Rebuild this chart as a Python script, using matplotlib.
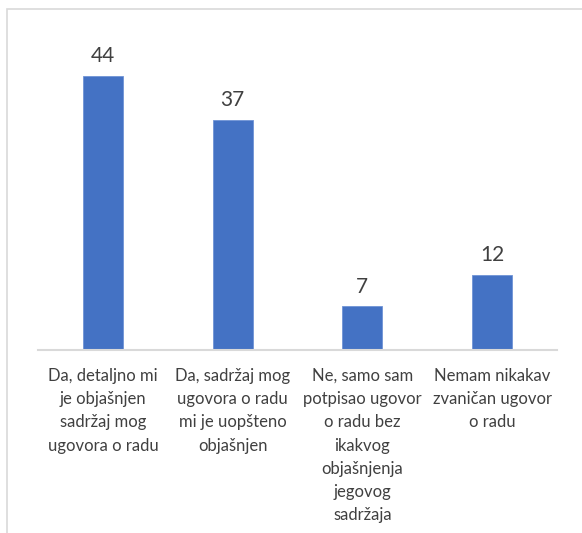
import matplotlib.pyplot as plt
from matplotlib.patches import Rectangle

plt.rcParams['font.family'] = ['Lato', 'DejaVu Sans']

# podaci
categories = [
    "Da, detaljno mi\nje objašnjen\nsadržaj mog\nugovora o radu",
    "Da, sadržaj mog\nugovora o radu\nmi je uopšteno\nobjašnjen",
    "Ne, samo sam\npotpisao ugovor\no radu bez\nikakvog\nobjašnjenja\njegovog\nsadržaja",
    "Nemam nikakav\nzvaničan ugovor\no radu",
]
values = [44, 37, 7, 12]

W, H = 582, 533
fig = plt.figure(figsize=(W / 100, H / 100), dpi=100)

# okvir grafikona (izlazi van slike desno i dole)
fig.patches.append(Rectangle((7 / W, -0.1), 1.2, 1 - 9 / H + 0.1,
                             transform=fig.transFigure, fill=False,
                             edgecolor="#d9d9d9", linewidth=1.2))

ax = fig.add_axes([38 / W, 1 - 350 / H, 519 / W, (350 - 39) / H])
x = range(len(values))
ax.bar(x, values, width=0.31, color="#4472c4", edgecolor="#6f93d6", linewidth=0.6)
ax.set_xlim(-0.5, len(values) - 0.5)
ax.set_ylim(0, 50)

for i, v in enumerate(values):
    ax.text(i, v + 1.6, str(v), ha="center", va="bottom",
            fontsize=15, color="#404040")

ax.set_xticks(list(x))
ax.set_xticklabels(categories, fontsize=12, color="#404040", linespacing=1.55,
                   va="top")
ax.tick_params(axis="x", length=0, pad=13)
ax.set_yticks([])
for s in ["top", "left", "right"]:
    ax.spines[s].set_visible(False)
ax.spines["bottom"].set_color("#d9d9d9")
ax.spines["bottom"].set_linewidth(1.5)

fig.savefig("out.png", dpi=100)
